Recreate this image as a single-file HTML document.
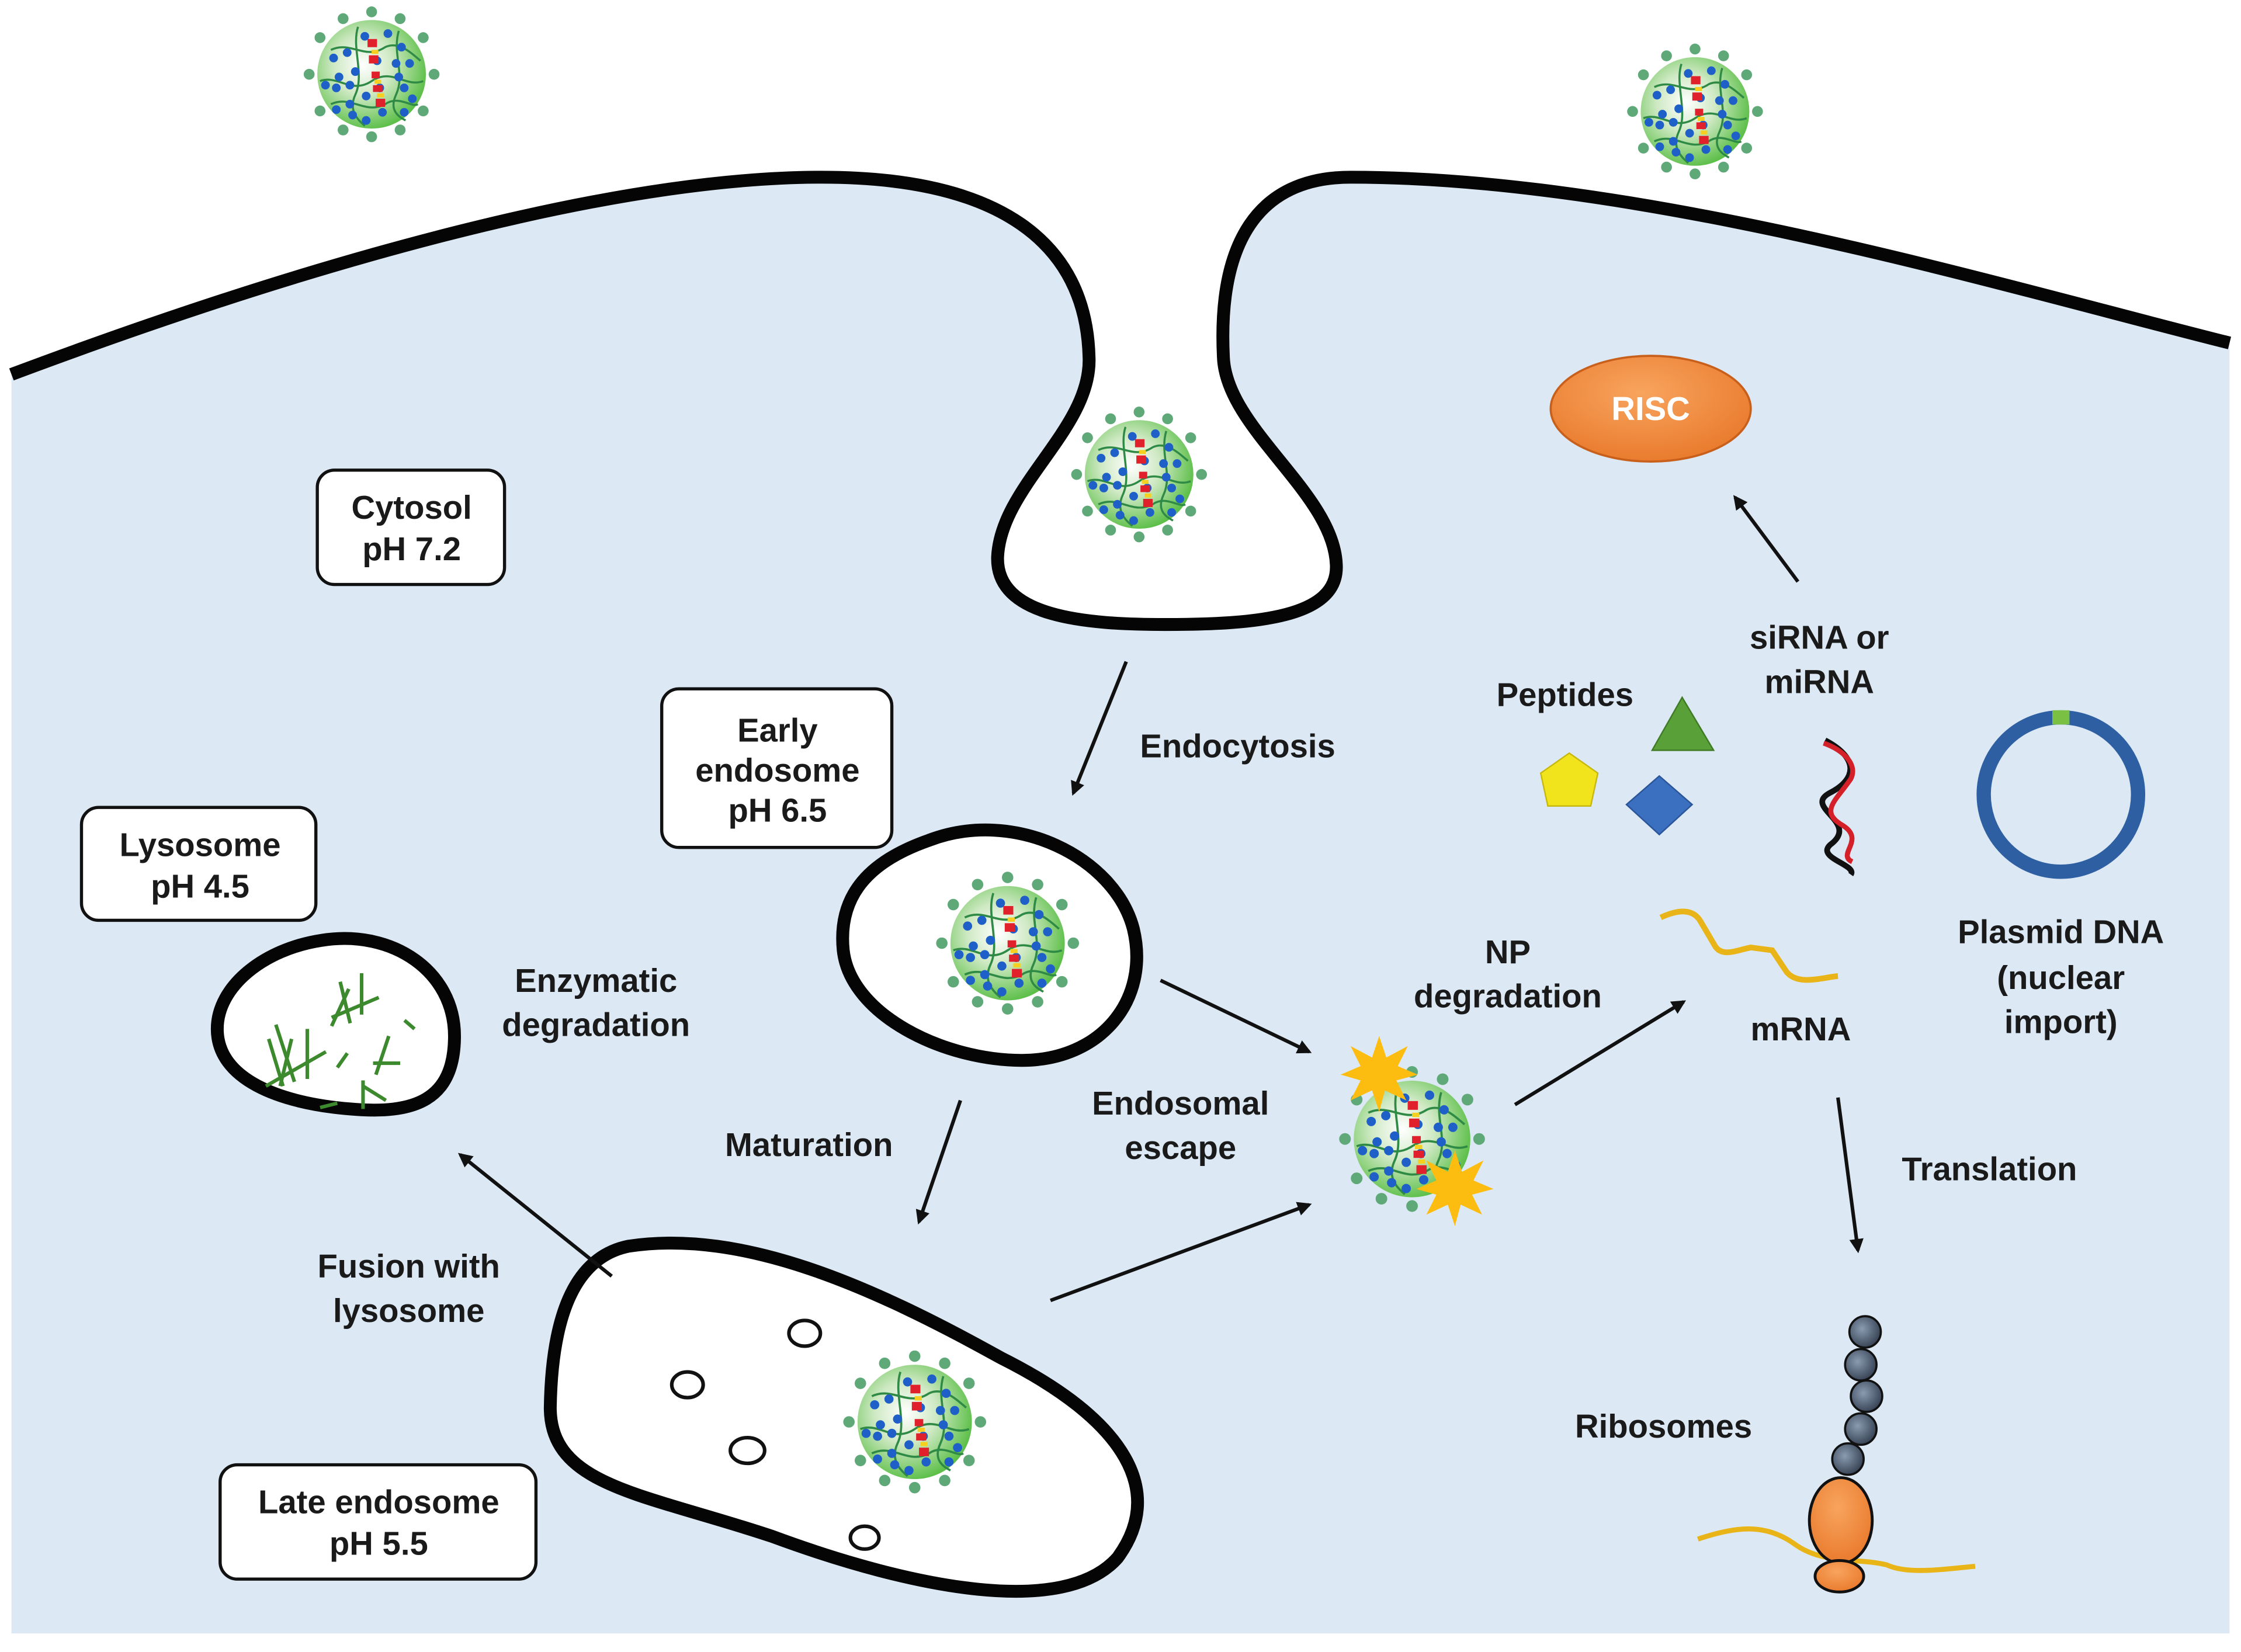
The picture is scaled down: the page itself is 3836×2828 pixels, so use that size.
<!DOCTYPE html>
<html><head><meta charset="utf-8"><style>
html,body{margin:0;padding:0;background:#fff;}
svg{display:block;}
text{font-family:"Liberation Sans",sans-serif;font-weight:bold;fill:#1a1a1a;font-size:23px;text-anchor:middle;}
</style></head><body>
<svg width="3836" height="2828" viewBox="0 0 1568 1156" xmlns="http://www.w3.org/2000/svg">
<defs>
<radialGradient id="np" cx="0.42" cy="0.42" r="0.6">
<stop offset="0" stop-color="#ffffff"/><stop offset="0.45" stop-color="#cfe9c4"/><stop offset="1" stop-color="#5cbf48"/>
</radialGradient>
<radialGradient id="org" cx="0.45" cy="0.35" r="0.7">
<stop offset="0" stop-color="#f8a45e"/><stop offset="1" stop-color="#e8782a"/>
</radialGradient>
<radialGradient id="ball" cx="0.4" cy="0.4" r="0.6">
<stop offset="0" stop-color="#8a9bb0"/><stop offset="1" stop-color="#3a4658"/>
</radialGradient>
<marker id="ar" markerWidth="10" markerHeight="10" refX="8" refY="5" orient="auto" markerUnits="userSpaceOnUse">
<path d="M0,0 L10,5 L0,10 Z" fill="#111"/>
</marker>
<g id="NP">
<g fill="#5fa878">
<circle cx="0" cy="-46" r="4"/><circle cx="21" cy="-41" r="4"/><circle cx="38" cy="-27" r="4"/><circle cx="46" cy="0" r="4"/>
<circle cx="38" cy="27" r="4"/><circle cx="21" cy="41" r="4"/><circle cx="0" cy="46" r="4"/><circle cx="-21" cy="41" r="4"/>
<circle cx="-38" cy="27" r="4"/><circle cx="-46" cy="0" r="4"/><circle cx="-38" cy="-27" r="4"/><circle cx="-21" cy="-41" r="4"/>
</g>
<circle r="40" fill="url(#np)"/>
<g stroke="#2e8a45" stroke-width="1.5" fill="none">
<path d="M-30,-18 C-15,-25 -5,-10 10,-20 C20,-25 30,-15 36,-10"/>
<path d="M-38,5 C-25,0 -15,15 0,5 C15,-5 25,10 38,5"/>
<path d="M-30,22 C-15,15 -5,30 10,22 C20,15 30,25 34,22"/>
<path d="M-10,-35 C-15,-20 -5,0 -12,15 C-18,28 -8,35 -5,38"/>
<path d="M20,-32 C15,-15 25,0 18,15 C12,28 22,32 25,34"/>
</g>
<g fill="#1f5fc8">
<circle cx="-28" cy="-12" r="3.2"/><circle cx="-18" cy="-16" r="3.2"/><circle cx="-5" cy="-28" r="3.2"/><circle cx="12" cy="-30" r="3.2"/>
<circle cx="22" cy="-20" r="3.2"/><circle cx="28" cy="-8" r="3.2"/><circle cx="18" cy="-8" r="3.2"/><circle cx="-24" cy="2" r="3.2"/>
<circle cx="-12" cy="-2" r="3.2"/><circle cx="20" cy="2" r="3.2"/><circle cx="-34" cy="8" r="3.2"/><circle cx="-26" cy="10" r="3.2"/>
<circle cx="-16" cy="8" r="3.2"/><circle cx="24" cy="10" r="3.2"/><circle cx="30" cy="18" r="3.2"/><circle cx="-16" cy="22" r="3.2"/>
<circle cx="-26" cy="26" r="3.2"/><circle cx="-14" cy="30" r="3.2"/><circle cx="-4" cy="34" r="3.2"/><circle cx="8" cy="28" r="3.2"/>
<circle cx="24" cy="28" r="3.2"/><circle cx="4" cy="-10" r="3.2"/><circle cx="6" cy="10" r="3.2"/><circle cx="-4" cy="16" r="3.2"/>
</g>
<g fill="#e0202a">
<rect x="-3" y="-26" width="7" height="6"/><rect x="-2" y="-14" width="7" height="6"/><rect x="0" y="-2" width="6" height="5"/>
<rect x="1" y="8" width="7" height="5"/><rect x="3" y="18" width="7" height="6"/>
</g>
<g fill="#f5d020"><rect x="0" y="-18" width="5" height="3"/><rect x="2" y="4" width="5" height="3"/><rect x="4" y="14" width="5" height="3"/></g>
</g>
</defs>

<!-- cell -->
<path d="M8,262 C200,190 420,124 575,124 C700,124 760,170 762,250 C764,300 700,340 698,390 C697,432 760,437 815,437 C880,437 937,432 935,395 C933,345 858,300 856,250 C852,170 880,124 945,124 C1150,124 1400,200 1560,240 L1560,1143 L8,1143 Z" fill="#dce9f5"/>
<path d="M8,262 C200,190 420,124 575,124 C700,124 760,170 762,250 C764,300 700,340 698,390 C697,432 760,437 815,437 C880,437 937,432 935,395 C933,345 858,300 856,250 C852,170 880,124 945,124 C1150,124 1400,200 1560,240" fill="none" stroke="#050505" stroke-width="9"/>

<!-- outside NPs -->
<use href="#NP" transform="translate(260,52) scale(0.95)"/>
<use href="#NP" transform="translate(1186,78) scale(0.95)"/>
<use href="#NP" transform="translate(797,332) scale(0.95)"/>

<!-- early endosome -->
<path d="M650,588 C710,565 780,600 793,650 C805,700 770,742 715,742 C660,742 595,710 590,665 C586,625 610,602 650,588 Z" fill="#fff" stroke="#050505" stroke-width="9"/>
<use href="#NP" transform="translate(705,660)"/>

<!-- late endosome -->
<path d="M440,872 C520,860 610,900 700,950 C790,995 815,1045 782,1090 C745,1132 640,1112 540,1075 C450,1045 385,1040 385,985 C386,925 400,880 440,872 Z" fill="#fff" stroke="#050505" stroke-width="9"/>
<g fill="#fff" stroke="#111" stroke-width="2.5">
<ellipse cx="563" cy="933" rx="11" ry="9"/><ellipse cx="481" cy="969" rx="11" ry="9"/><ellipse cx="523" cy="1015" rx="12" ry="9"/><ellipse cx="605" cy="1076" rx="10" ry="8"/>
</g>
<use href="#NP" transform="translate(640,995)"/>

<!-- lysosome -->
<path d="M225,658 C275,650 318,680 318,725 C318,770 290,780 245,776 C195,772 152,755 152,720 C152,690 185,664 225,658 Z" fill="#fff" stroke="#050505" stroke-width="9"/>
<g stroke="#3d8a2e" stroke-width="2.5">
<line x1="238" y1="687" x2="245" y2="716"/><line x1="253" y1="681" x2="253" y2="710"/><line x1="232" y1="712" x2="265" y2="698"/>
<line x1="244" y1="692" x2="232" y2="718"/><line x1="188" y1="727" x2="198" y2="760"/><line x1="193" y1="717" x2="206" y2="757"/>
<line x1="215" y1="720" x2="215" y2="755"/><line x1="186" y1="760" x2="228" y2="736"/><line x1="204" y1="727" x2="196" y2="760"/>
<line x1="236" y1="747" x2="243" y2="737"/><line x1="263" y1="752" x2="272" y2="725"/><line x1="261" y1="744" x2="280" y2="744"/>
<line x1="254" y1="756" x2="254" y2="776"/><line x1="254" y1="760" x2="270" y2="770"/><line x1="224" y1="775" x2="236" y2="772"/>
<line x1="283" y1="714" x2="290" y2="720"/>
</g>

<!-- escape -->
<use href="#NP" transform="translate(988,797) scale(1.02)"/>
<path fill="#fdbd10" d="M965,725 L970,740 L985,732 L978,746 L992,752 L977,756 L984,770 L969,763 L965,778 L960,763 L945,770 L952,756 L938,752 L952,746 L945,732 L960,740 Z"/>
<path fill="#fdbd10" d="M1018,805 L1023,820 L1038,812 L1031,826 L1045,832 L1030,836 L1037,850 L1022,843 L1018,858 L1013,843 L998,850 L1005,836 L991,832 L1005,826 L998,812 L1013,820 Z"/>

<!-- label boxes -->
<g fill="#fff" stroke="#111" stroke-width="2.2">
<rect x="222" y="329" width="131" height="80" rx="12"/>
<rect x="463" y="482" width="161" height="111" rx="12"/>
<rect x="57" y="565" width="164" height="79" rx="12"/>
<rect x="154" y="1025" width="221" height="80" rx="12"/>
</g>
<text x="288" y="363">Cytosol</text><text x="288" y="392">pH 7.2</text>
<text x="544" y="519">Early</text><text x="544" y="547">endosome</text><text x="544" y="575">pH 6.5</text>
<text x="140" y="599">Lysosome</text><text x="140" y="628">pH 4.5</text>
<text x="265" y="1059">Late endosome</text><text x="265" y="1088">pH 5.5</text>

<!-- arrows -->
<g stroke="#111" stroke-width="2.5" marker-end="url(#ar)">
<line x1="788" y1="463" x2="751" y2="555"/>
<line x1="672" y1="770" x2="643" y2="855"/>
<line x1="812" y1="686" x2="916" y2="736"/>
<line x1="735" y1="910" x2="916" y2="843"/>
<line x1="428" y1="893" x2="322" y2="808"/>
<line x1="1060" y1="773" x2="1178" y2="701"/>
<line x1="1258" y1="407" x2="1214" y2="348"/>
<line x1="1286" y1="768" x2="1300" y2="875"/>
</g>

<!-- labels -->
<text x="866" y="530">Endocytosis</text>
<text x="417" y="694">Enzymatic</text><text x="417" y="725">degradation</text>
<text x="566" y="809">Maturation</text>
<text x="826" y="780">Endosomal</text><text x="826" y="811">escape</text>
<text x="286" y="894">Fusion with</text><text x="286" y="925">lysosome</text>
<text x="1055" y="674">NP</text><text x="1055" y="705">degradation</text>
<text x="1095" y="494">Peptides</text>
<text x="1273" y="454">siRNA or</text><text x="1273" y="485">miRNA</text>
<text x="1442" y="660">Plasmid DNA</text><text x="1442" y="692">(nuclear</text><text x="1442" y="723">import)</text>
<text x="1260" y="728">mRNA</text>
<text x="1392" y="826">Translation</text>
<text x="1164" y="1006">Ribosomes</text>

<!-- RISC -->
<ellipse cx="1155" cy="286" rx="70" ry="37" fill="url(#org)" stroke="#c8601c" stroke-width="1.5"/>
<text x="1155" y="294" style="fill:#fff">RISC</text>

<!-- peptides -->
<path d="M1098,527 L1118,541 L1113,564 L1083,564 L1078,541 Z" fill="#f2e41c" stroke="#c7b810" stroke-width="1"/>
<path d="M1177,488 L1199,525 L1156,525 Z" fill="#5aa038" stroke="#3f7a25" stroke-width="1"/>
<path d="M1161,543 L1184,563 L1161,584 L1138,563 Z" fill="#3b6fbf" stroke="#2a5598" stroke-width="1"/>

<!-- siRNA helix -->
<path d="M1277,518 C1300,530 1300,545 1280,555 C1262,565 1300,575 1282,590 C1268,600 1300,605 1295,612" fill="none" stroke="#111" stroke-width="4"/>
<path d="M1276,520 C1290,525 1300,535 1295,545 C1285,560 1272,568 1290,578 C1305,588 1285,598 1296,603" fill="none" stroke="#d42028" stroke-width="3.5"/>

<!-- plasmid -->
<circle cx="1442" cy="556" r="54" fill="none" stroke="#2e5fa3" stroke-width="10"/>
<rect x="1436" y="497" width="12" height="10" fill="#7ac143"/>

<!-- mRNA -->
<path d="M1162,642 C1175,636 1185,636 1190,645 L1200,662 C1205,670 1215,665 1225,663 L1240,665 L1250,680 C1258,690 1275,684 1286,683" fill="none" stroke="#e8b417" stroke-width="4"/>

<!-- ribosome -->
<path d="M1188,1077 C1215,1068 1235,1066 1255,1080 C1275,1095 1300,1090 1320,1095 C1335,1102 1360,1098 1382,1096" fill="none" stroke="#e8b417" stroke-width="3.5"/>
<g fill="url(#ball)" stroke="#111" stroke-width="1.5">
<circle cx="1305" cy="932" r="11"/><circle cx="1302" cy="955" r="11"/><circle cx="1306" cy="977" r="11"/><circle cx="1302" cy="1000" r="11"/><circle cx="1293" cy="1021" r="11"/>
</g>
<ellipse cx="1288" cy="1064" rx="22" ry="30" fill="url(#org)" stroke="#111" stroke-width="2"/>
<ellipse cx="1287" cy="1103" rx="17" ry="11" fill="url(#org)" stroke="#111" stroke-width="2"/>
</svg>
</body></html>
